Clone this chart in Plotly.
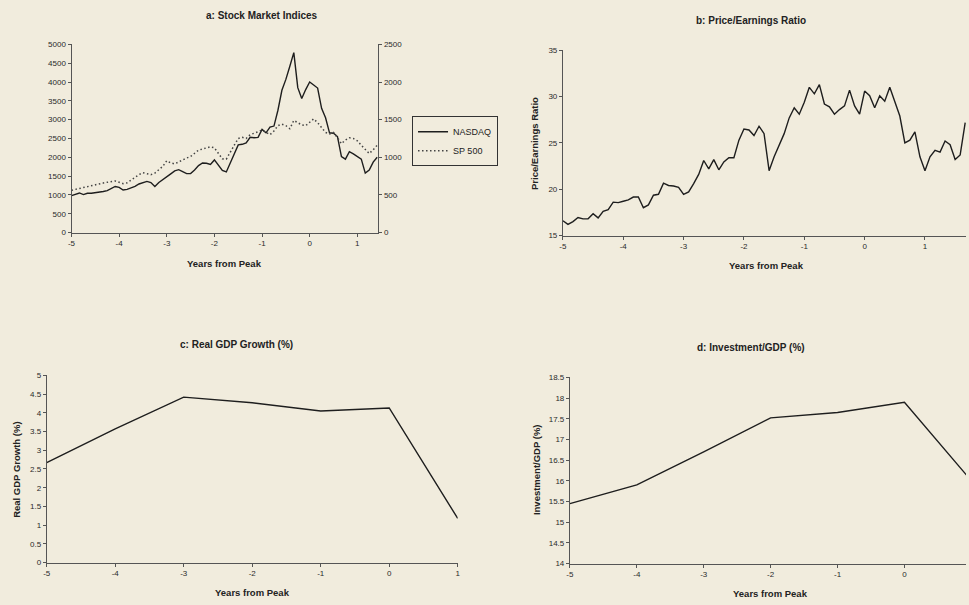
import plotly.graph_objects as go

# ---------------- data ----------------
# Panel a: monthly, months from peak -60 .. 17
months_a = list(range(-60, 18))
nasdaq = [983, 1026, 1052, 1009, 1043, 1043, 1052, 1075, 1090, 1115, 1160, 1225,
          1200, 1130, 1148, 1185, 1225, 1290, 1330, 1360, 1330, 1225, 1330, 1400,
          1480, 1560, 1640, 1670, 1620, 1565, 1570, 1660, 1780, 1850, 1840, 1810,
          1930, 1800, 1650, 1610, 1850, 2080, 2330, 2345, 2380, 2530, 2520, 2530,
          2740, 2650, 2800, 2830, 3250, 3780, 4070, 4420, 4780, 3850, 3560, 3800,
          4000, 3920, 3840, 3300, 3050, 2650, 2640, 2550, 2020, 1950, 2150, 2090,
          2020, 1950, 1580, 1660, 1870, 2000]
sp500 = [562, 575, 590, 603, 615, 628, 640, 650, 658, 668, 680, 685,
         668, 650, 660, 700, 740, 770, 795, 780, 770, 790, 830, 880,
         955, 925, 912, 940, 965, 990, 1010, 1050, 1095, 1110, 1130, 1140,
         1125, 1050, 980, 975, 1060, 1160, 1250, 1265, 1250, 1300, 1320, 1345,
         1360, 1330, 1300, 1350, 1420, 1440, 1420, 1380, 1490, 1460, 1430, 1420,
         1465, 1510, 1460, 1400, 1330, 1310, 1330, 1260, 1180, 1230, 1260, 1250,
         1220, 1160, 1100, 1050, 1100, 1160]

# Panel b: monthly P/E, months from peak -60 .. 20
months_b = list(range(-60, 21))
pe_ratio = [16.6, 16.2, 16.5, 16.95, 16.8, 16.8, 17.35, 16.9, 17.6, 17.8, 18.6, 18.55,
            18.7, 18.85, 19.15, 19.15, 18.0, 18.3, 19.35, 19.45, 20.65, 20.4, 20.35, 20.2,
            19.45, 19.7, 20.6, 21.6, 23.1, 22.2, 23.2, 22.1, 22.95, 23.4, 23.4, 25.3,
            26.5, 26.4, 25.8, 26.8, 26.0, 22.0, 23.5, 24.7, 26.0, 27.7, 28.8, 28.1,
            29.4, 31.0, 30.3, 31.3, 29.2, 28.9, 28.1, 28.6, 29.0, 30.7, 29.0, 28.1,
            30.6, 30.1, 28.8, 30.1, 29.5, 31.0, 29.5, 27.9, 25.0, 25.3, 26.2, 23.5,
            22.0, 23.5, 24.2, 24.0, 25.2, 24.8, 23.2, 23.7, 27.2]

# Panels c, d: annual
years_cd = [-5, -4, -3, -2, -1, 0, 1]
gdp_growth = [2.67, 3.57, 4.42, 4.27, 4.05, 4.13, 1.18]
invest_gdp = [15.45, 15.9, 16.7, 17.52, 17.65, 17.9, 16.0]

year_ticks = [-5, -4, -3, -2, -1, 0, 1]
year_tick_text = ["-5", "-4", "-3", "-2", "-1", "0", "1"]

# ---------------- figure ----------------
W, H = 969, 605
BG = "#F1ECDD"
INK = "#1e1e1e"
AXC = "#555555"
FONT = "Liberation Sans, Arial, sans-serif"

x_a = [m / 12 for m in months_a]
x_b = [m / 12 for m in months_b]

fig = go.Figure()
fig.add_trace(go.Scatter(x=x_a, y=nasdaq, mode="lines", name="NASDAQ",
                         line=dict(color=INK, width=1.4), xaxis="x", yaxis="y"))
fig.add_trace(go.Scatter(x=x_a, y=sp500, mode="lines", name="SP 500",
                         line=dict(color="#444444", width=1.5, dash="1.5px,2.5px"),
                         xaxis="x", yaxis="y2"))
fig.add_trace(go.Scatter(x=x_b, y=pe_ratio, mode="lines", showlegend=False,
                         line=dict(color=INK, width=1.4), xaxis="x2", yaxis="y3"))
fig.add_trace(go.Scatter(x=years_cd, y=gdp_growth, mode="lines", showlegend=False,
                         line=dict(color=INK, width=1.4), xaxis="x3", yaxis="y4"))
fig.add_trace(go.Scatter(x=years_cd, y=invest_gdp, mode="lines", showlegend=False,
                         line=dict(color=INK, width=1.4), xaxis="x4", yaxis="y5"))


def px_x(v):
    return v / W


def px_y(v):
    return 1 - v / H


tickfont = dict(family=FONT, size=8, color="#2a2a2a")
common = dict(showgrid=False, zeroline=False, showline=True, linecolor=AXC,
              linewidth=1, ticks="outside", ticklen=3, tickcolor=AXC,
              tickfont=tickfont, fixedrange=True)

xcommon = dict(common, tickvals=year_ticks, ticktext=year_tick_text)

fig.update_layout(
    width=W, height=H, autosize=False,
    margin=dict(l=0, r=0, t=0, b=0),
    paper_bgcolor=BG, plot_bgcolor=BG,
    font=dict(family=FONT, color="#222222"),
    # panel a
    xaxis=dict(xcommon, domain=[px_x(68), px_x(377)], range=[-5, 1.44],
               anchor="y"),
    yaxis=dict(common, domain=[px_y(232), px_y(41)], range=[0, 5000],
               dtick=500, anchor="x"),
    yaxis2=dict(common, overlaying="y", side="right", range=[0, 2500],
                dtick=500, anchor="x"),
    # panel b
    xaxis2=dict(xcommon, domain=[px_x(563), 1.0], range=[-5, 1.68],
                anchor="y3"),
    yaxis3=dict(common, domain=[px_y(235), px_y(47)], range=[15, 35],
                dtick=5, anchor="x2"),
    # panel c
    xaxis3=dict(xcommon, domain=[px_x(43), px_x(457)], range=[-5, 1],
                anchor="y4"),
    yaxis4=dict(common, domain=[px_y(567), px_y(377)], range=[0, 5],
                dtick=0.5, anchor="x3"),
    # panel d
    xaxis4=dict(xcommon, domain=[px_x(570), 1.0], range=[-5, 0.92],
                anchor="y5"),
    yaxis5=dict(common, domain=[px_y(568), px_y(379)], range=[14, 18.5],
                dtick=0.5, anchor="x4"),
    legend=dict(x=px_x(411), y=px_y(114), xanchor="left", yanchor="top",
                bgcolor=BG, bordercolor="#333333", borderwidth=1,
                font=dict(family=FONT, size=9, color="#222222"),
                tracegroupgap=0, itemwidth=30),
    showlegend=True,
)

ann = []


def label(text, x, y, angle=0, size=10):
    ann.append(dict(text="<b>" + text + "</b>", x=px_x(x), y=px_y(y),
                    xref="paper", yref="paper", showarrow=False,
                    xanchor="center", yanchor="middle", textangle=angle,
                    font=dict(family=FONT, size=size, color="#222222")))


label("a: Stock Market Indices", 260, 12)
label("b: Price/Earnings Ratio", 752, 17)
label("c: Real GDP Growth (%)", 234, 346)
label("d: Investment/GDP (%)", 752, 349)
label("Years from Peak", 222, 263, size=9.5)
label("Years from Peak", 768, 265, size=9.5)
label("Years from Peak", 250, 597, size=9.5)
label("Years from Peak", 772, 598, size=9.5)
label("Price/Earnings Ratio", 535, 142, angle=-90, size=9.5)
label("Real GDP Growth (%)", 13, 473, angle=-90, size=9.5)
label("Investment/GDP (%)", 537, 473, angle=-90, size=9.5)

fig.update_layout(annotations=ann)

fig.write_html(
    "out.html",
    config={"displayModeBar": False},
    post_script="document.body.style.margin='0';"
                "document.body.style.overflow='hidden';"
                "document.documentElement.style.overflow='hidden';",
)
